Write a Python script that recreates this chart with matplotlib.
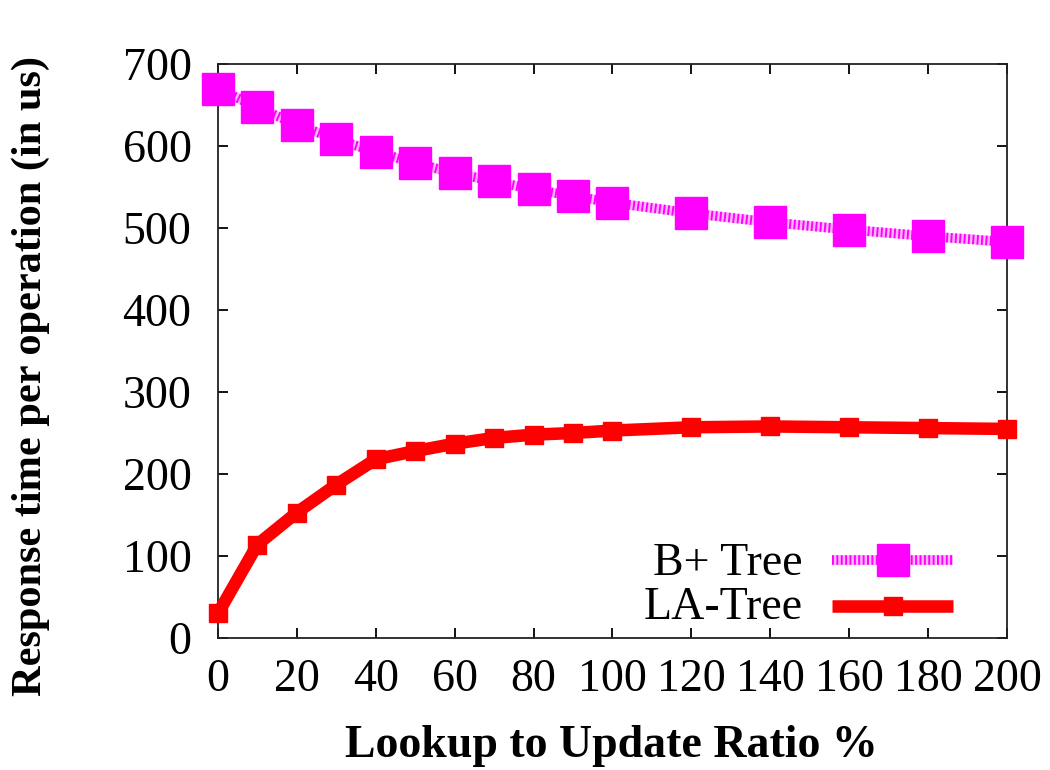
import matplotlib
matplotlib.use("Agg")
import matplotlib.pyplot as plt

plt.rcParams['font.family'] = ['Liberation Serif', 'DejaVu Serif']

ratio = [0, 10, 20, 30, 40, 50, 60, 70, 80, 90, 100, 120, 140, 160, 180, 200]
bplus_tree = [670, 647, 626, 608, 593, 579, 567, 557, 547, 539, 531, 518, 507, 498, 490, 483]
la_tree = [30, 114, 153, 187, 218, 228, 237, 244, 248, 250, 253, 257, 258, 257, 256, 255]

x_ticks = [0, 20, 40, 60, 80, 100, 120, 140, 160, 180, 200]
y_ticks = [0, 100, 200, 300, 400, 500, 600, 700]

series_names = ['B+ Tree', 'LA-Tree']

BP_BAND = '#ffb8ff'
BP_MAIN = '#ff00ff'
LA_MAIN = '#ff0000'
HATCH = (0, (0.2, 0.25))

fig = plt.figure(figsize=(10.5, 7.7), dpi=100)
ax = fig.add_axes([0.2076, 0.1714, 0.7514, 0.7455])


def draw_bplus(xs, ys, **kw):
    ax.plot(xs, ys, color=BP_BAND, lw=7, solid_capstyle='butt', zorder=2, clip_on=False, **kw)
    ax.plot(xs, ys, color=BP_MAIN, lw=7, ls=HATCH, dash_capstyle='butt', zorder=2.1,
            clip_on=False, **kw)


# B+ Tree: hatched pink band with large square markers
draw_bplus(ratio, bplus_tree)
ax.plot(ratio, bplus_tree, ls='none', marker='s', ms=23, color=BP_MAIN, mec=BP_MAIN,
        zorder=3, clip_on=False)

# LA-Tree: thick solid red line with small square markers
ax.plot(ratio, la_tree, color=LA_MAIN, lw=9, marker='s', ms=13, mec=LA_MAIN,
        zorder=4, clip_on=False)

ax.set_xlim(0, 200)
ax.set_ylim(0, 700)
ax.set_xticks(x_ticks)
ax.set_yticks(y_ticks)
ax.tick_params(direction='in', length=7.5, width=1.3, top=True, right=True, labelsize=33)
ax.tick_params(axis='x', pad=15)
ax.tick_params(axis='y', pad=19)
for s in ax.spines.values():
    s.set_linewidth(1.3)
    s.set_color('#222222')

fig.text(0.582, 0.017, 'Lookup to Update Ratio %', fontsize=33, fontweight='bold',
         ha='center', va='baseline')
fig.text(0.0295, 0.512, 'Response time per operation (in us)', fontsize=30.5,
         fontweight='bold', rotation=90, ha='center', va='center')

# key: label on the left, line sample on the right
tr = ax.transAxes
key_x0, key_x1, key_xm, text_x = 0.778, 0.9316, 0.855, 0.7414
row_y = [0.1359, 0.0557]
base_y = [0.1098, 0.0331]

ax.plot([key_x0, key_x1], [row_y[0]] * 2, color=BP_BAND, lw=7, solid_capstyle='butt',
        transform=tr, clip_on=False, zorder=5)
ax.plot([key_x0, key_x1], [row_y[0]] * 2, color=BP_MAIN, lw=7, ls=HATCH,
        dash_capstyle='butt', transform=tr, clip_on=False, zorder=5.1)
ax.plot([key_xm], [row_y[0]], ls='none', marker='s', ms=23, color=BP_MAIN,
        transform=tr, clip_on=False, zorder=5.2)
ax.plot([key_x0, key_x1], [row_y[1]] * 2, color=LA_MAIN, lw=9, solid_capstyle='butt',
        transform=tr, clip_on=False, zorder=5)
ax.plot([key_xm], [row_y[1]], ls='none', marker='s', ms=13, color=LA_MAIN,
        transform=tr, clip_on=False, zorder=5.2)
for name, yb in zip(series_names, base_y):
    ax.text(text_x, yb, name, transform=tr, fontsize=33, ha='right', va='baseline')

fig.savefig('out.png', dpi=100)
